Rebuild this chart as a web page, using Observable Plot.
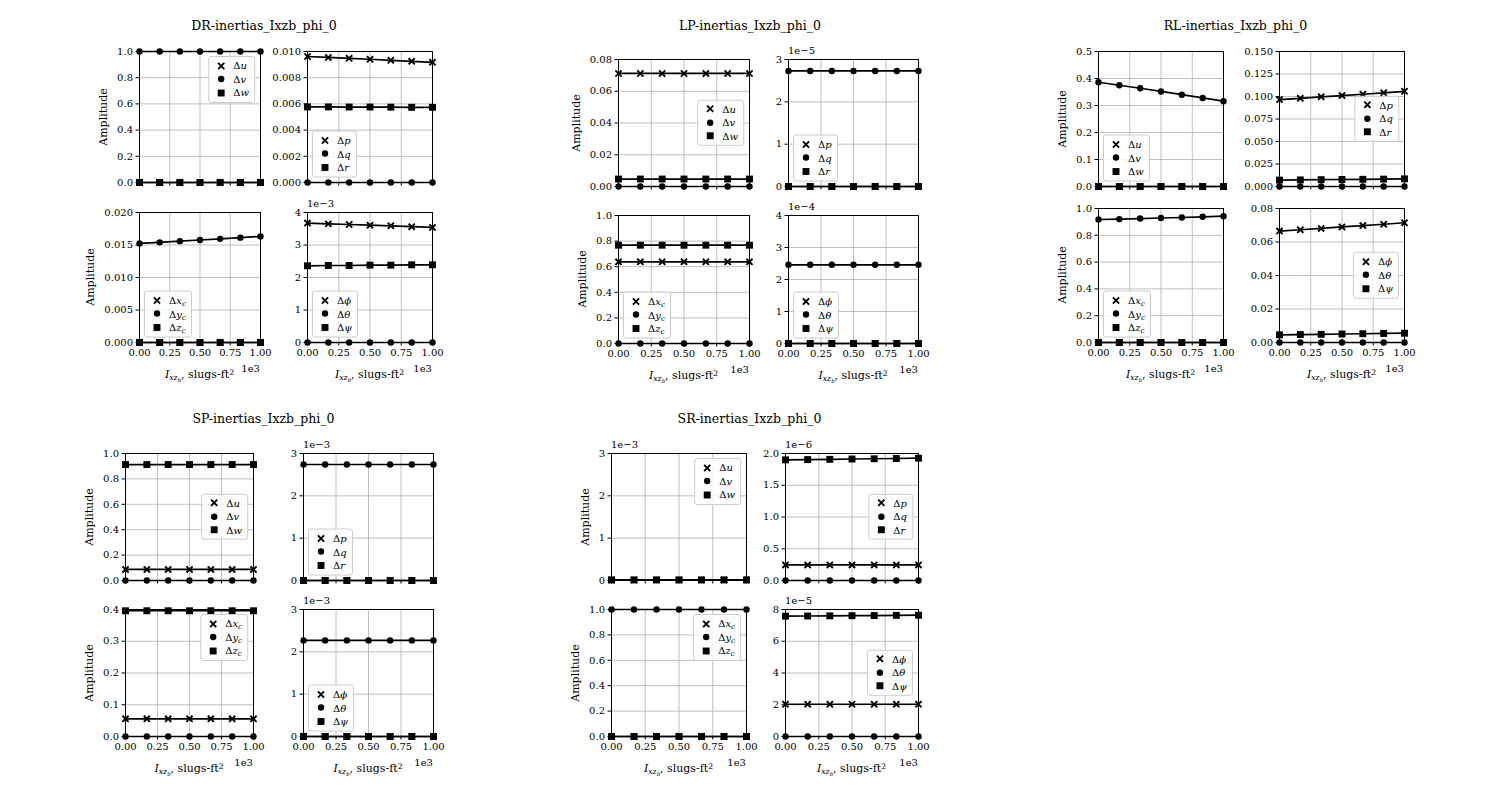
<!DOCTYPE html>
<html><head><meta charset="utf-8">
<script src="https://cdn.jsdelivr.net/npm/d3@7"></script>
<script src="https://cdn.jsdelivr.net/npm/@observablehq/plot@0.6"></script>
<style>
body{margin:0;background:#fff;font-family:"DejaVu Serif","Liberation Serif",serif;color:#000;}
#fig{position:relative;width:1500px;height:800px;overflow:hidden;background:#fff;}
.lg{position:absolute;background:rgba(255,255,255,0.8);border:1px solid #cccccc;border-radius:3px;padding:2px 5px 2px 6px;font-size:10px;}
.lg .row{display:flex;align-items:center;height:13.5px;white-space:nowrap;}
sub{font-size:0.7em;vertical-align:-0.3em;line-height:0;}
sup{font-size:0.7em;vertical-align:0.45em;line-height:0;}
</style></head><body><div id="fig"></div>
<script>
// ---------- data ----------
const xVals = [0, 166.67, 333.33, 500, 666.67, 833.33, 1000];
const xTicks = [0, 250, 500, 750, 1000];
const zeros = [0, 0, 0, 0, 0, 0, 0];

// DR
const DR_vel  = [zeros, [1, 1, 1, 1, 1, 1, 1], zeros];
const DR_rate = [[0.00962, 0.00955, 0.00948, 0.00941, 0.00933, 0.00925, 0.00917], zeros,
                 [0.00577, 0.00577, 0.00576, 0.00576, 0.00575, 0.00574, 0.00574]];
const DR_pos  = [zeros, [0.01524, 0.01541, 0.01559, 0.01577, 0.01595, 0.01613, 0.01632], zeros];
const DR_ang  = [[0.003675, 0.00365, 0.00363, 0.00361, 0.00359, 0.003565, 0.00354], zeros,
                 [0.00236, 0.00237, 0.00237, 0.00238, 0.00238, 0.00239, 0.00239]];
// LP
const LP_vel  = [[0.0712, 0.0712, 0.0712, 0.0712, 0.0712, 0.0712, 0.0712], zeros,
                 [0.0047, 0.0047, 0.0047, 0.0047, 0.0047, 0.0047, 0.0047]];
const LP_rate = [zeros, [2.73e-5, 2.73e-5, 2.73e-5, 2.73e-5, 2.73e-5, 2.73e-5, 2.73e-5], zeros];
const LP_pos  = [[0.638, 0.638, 0.638, 0.638, 0.638, 0.638, 0.638], zeros,
                 [0.768, 0.768, 0.768, 0.768, 0.768, 0.768, 0.768]];
const LP_ang  = [zeros, [2.46e-4, 2.46e-4, 2.46e-4, 2.46e-4, 2.46e-4, 2.46e-4, 2.46e-4], zeros];
// RL
const RL_vel  = [zeros, [0.386, 0.375, 0.364, 0.352, 0.340, 0.328, 0.316], zeros];
const RL_rate = [[0.0966, 0.0980, 0.0996, 0.1010, 0.1025, 0.1041, 0.1058], zeros,
                 [0.0071, 0.0073, 0.0076, 0.0078, 0.0080, 0.0082, 0.0085]];
const RL_pos  = [zeros, [0.918, 0.921, 0.925, 0.929, 0.933, 0.938, 0.943], zeros];
const RL_ang  = [[0.0665, 0.0673, 0.0681, 0.0690, 0.0698, 0.0706, 0.0715], zeros,
                 [0.00457, 0.00474, 0.00490, 0.00507, 0.00523, 0.00540, 0.00556]];
// SP
const SP_vel  = [[0.087, 0.087, 0.087, 0.087, 0.087, 0.087, 0.087], zeros,
                 [0.913, 0.913, 0.913, 0.913, 0.913, 0.913, 0.913]];
const SP_rate = [zeros, [2.74e-3, 2.74e-3, 2.74e-3, 2.74e-3, 2.74e-3, 2.74e-3, 2.74e-3], zeros];
const SP_pos  = [[0.0558, 0.0558, 0.0558, 0.0558, 0.0558, 0.0558, 0.0558], zeros,
                 [0.396, 0.396, 0.396, 0.396, 0.396, 0.396, 0.396]];
const SP_ang  = [zeros, [2.27e-3, 2.27e-3, 2.27e-3, 2.27e-3, 2.27e-3, 2.27e-3, 2.27e-3], zeros];
// SR
const SR_vel  = [[1e-5, 1e-5, 1e-5, 1e-5, 1e-5, 1e-5, 1e-5], [1e-5, 1e-5, 1e-5, 1e-5, 1e-5, 1e-5, 1e-5],
                 [1.5e-5, 1.5e-5, 1.5e-5, 1.5e-5, 1.5e-5, 1.5e-5, 1.5e-5]];
const SR_rate = [[2.45e-7, 2.45e-7, 2.45e-7, 2.45e-7, 2.45e-7, 2.45e-7, 2.45e-7], zeros,
                 [1.90e-6, 1.904e-6, 1.908e-6, 1.913e-6, 1.917e-6, 1.921e-6, 1.926e-6]];
const SR_pos  = [zeros, [1, 1, 1, 1, 1, 1, 1], zeros];
const SR_ang  = [[2.03e-5, 2.03e-5, 2.03e-5, 2.03e-5, 2.03e-5, 2.03e-5, 2.03e-5], zeros,
                 [7.58e-5, 7.59e-5, 7.60e-5, 7.61e-5, 7.62e-5, 7.63e-5, 7.64e-5]];

// y axes: [max, tick step, decimals, exponent]
const DR_axes = [[1.0, 0.2, 1, 0], [0.010, 0.002, 3, 0], [0.020, 0.005, 3, 0], [4e-3, 1e-3, 0, -3]];
const LP_axes = [[0.08, 0.02, 2, 0], [3e-5, 1e-5, 0, -5], [1.0, 0.2, 1, 0], [4e-4, 1e-4, 0, -4]];
const RL_axes = [[0.5, 0.1, 1, 0], [0.150, 0.025, 3, 0], [1.0, 0.2, 1, 0], [0.08, 0.02, 2, 0]];
const SP_axes = [[1.0, 0.2, 1, 0], [3e-3, 1e-3, 0, -3], [0.4, 0.1, 1, 0], [3e-3, 1e-3, 0, -3]];
const SR_axes = [[3e-3, 1e-3, 0, -3], [2e-6, 0.5e-6, 1, -6], [1.0, 0.2, 1, 0], [8e-5, 2e-5, 0, -5]];

// legend labels
const velLabels  = ["Δ<i>u</i>", "Δ<i>v</i>", "Δ<i>w</i>"];
const rateLabels = ["Δ<i>p</i>", "Δ<i>q</i>", "Δ<i>r</i>"];
const posLabels  = ["Δ<i>x</i><sub><i>c</i></sub>", "Δ<i>y</i><sub><i>c</i></sub>", "Δ<i>z</i><sub><i>c</i></sub>"];
const angLabels  = ["Δ<i>ϕ</i>", "Δ<i>θ</i>", "Δ<i>ψ</i>"];
const xLabel = "<i>I</i><sub><i>xz</i><sub><i>b</i></sub></sub>, slugs-ft<sup>2</sup>";
const yLabel = "Amplitude";

// ---------- layout ----------
const groups = [
  {name: "DR", title: [264, 25.5], cols: [[139, 260], [307, 432]], rows: [[51, 182], [212, 342]],
   data: [DR_vel, DR_rate, DR_pos, DR_ang], axes: DR_axes, loc: ["ur", "ll", "ll", "ll"]},
  {name: "LP", title: [750, 25.5], cols: [[618, 749], [788, 918]], rows: [[59, 186], [215, 343]],
   data: [LP_vel, LP_rate, LP_pos, LP_ang], axes: LP_axes, loc: ["cr", "ll", "ll", "ll"]},
  {name: "RL", title: [1235.5, 25.5], cols: [[1098, 1223], [1279, 1404]], rows: [[51, 186], [208, 342]],
   data: [RL_vel, RL_rate, RL_pos, RL_ang], axes: RL_axes, loc: ["ll", "cr", "ll", "cr"]},
  {name: "SP", title: [263.5, 419], cols: [[125, 253], [303, 433]], rows: [[453, 580], [609, 736]],
   data: [SP_vel, SP_rate, SP_pos, SP_ang], axes: SP_axes, loc: ["cr", "ll", "ur", "ll"]},
  {name: "SR", title: [749.5, 419], cols: [[611, 746], [785, 918]], rows: [[453, 580], [609, 736]],
   data: [SR_vel, SR_rate, SR_pos, SR_ang], axes: SR_axes, loc: ["ur", "cr", "ur", "cr"]}
];
const labelSets = [velLabels, rateLabels, posLabels, angLabels];
const symbols = ["times", "circle", "square"];
const d3Syms = [d3.symbolTimes, d3.symbolCircle, d3.symbolSquare];
const symR = [2.9, 3.2, 3.9];
const FONT = '"DejaVu Serif", "Liberation Serif", serif';

const fig = document.getElementById("fig");
function addDiv(html, css, cls) {
  const d = document.createElement("div");
  if (cls) d.className = cls;
  d.innerHTML = html;
  d.style.cssText = "position:absolute;white-space:nowrap;line-height:1;" + css;
  fig.appendChild(d);
  return d;
}
function symAttrs(s) {
  return s === 0 ? {stroke: "black", strokeWidth: 1.9, fill: "none"} : {fill: "black", stroke: "none"};
}

groups.forEach(g => {
  addDiv(g.name + "-inertias_Ixzb_phi_0",
    `left:${g.title[0]}px;top:${g.title[1]}px;transform:translate(-50%,-50%);font-size:12.5px;`);
  for (let k = 0; k < 4; k++) {
    const col = k % 2, row = Math.floor(k / 2);
    const [x0, x1] = g.cols[col], [y0, y1] = g.rows[row];
    const W = x1 - x0, H = y1 - y0;
    const [ymax, step, dec, ex] = g.axes[k];
    const sc = Math.pow(10, ex);
    const yTicks = d3.range(0, ymax + step / 2, step);
    const mL = 60, mR = 15, mT = 20, mB = 40;
    const marks = [
      Plot.gridX(xTicks, {stroke: "#b0b0b0", strokeOpacity: 1, strokeWidth: 0.8}),
      Plot.gridY(yTicks, {stroke: "#b0b0b0", strokeOpacity: 1, strokeWidth: 0.8}),
      Plot.axisX(xTicks, {tickSize: 3.5, tickPadding: 3, label: null,
        tickFormat: row === 1 ? (d => (d / 1000).toFixed(2)) : (() => "")}),
      Plot.axisY(yTicks, {tickSize: 3.5, tickPadding: 3, label: null,
        tickFormat: d => (d / sc).toFixed(dec)})
    ];
    g.data[k].forEach((vals, s) => {
      const pts = vals.map((v, i) => ({x: xVals[i], y: v}));
      marks.push(Plot.line(pts, {x: "x", y: "y", stroke: "black", strokeWidth: 1.7}));
      marks.push(Plot.dot(pts, {x: "x", y: "y", symbol: symbols[s], r: symR[s], ...symAttrs(s)}));
    });
    marks.push(Plot.frame({stroke: "black", strokeWidth: 1}));
    const svg = Plot.plot({
      width: W + mL + mR, height: H + mT + mB,
      marginLeft: mL, marginRight: mR, marginTop: mT, marginBottom: mB,
      x: {domain: [0, 1000]}, y: {domain: [0, ymax]},
      style: {fontFamily: FONT, fontSize: "10px", color: "black", background: "transparent", overflow: "visible"},
      marks
    });
    svg.style.position = "absolute";
    svg.style.left = (x0 - mL) + "px";
    svg.style.top = (y0 - mT) + "px";
    svg.style.maxWidth = "none";
    svg.setAttribute("font-family", FONT);
    fig.appendChild(svg);

    // offset texts
    if (ex !== 0) addDiv("1e−" + (-ex), `left:${x0}px;top:${y0 - 13}px;font-size:10px;`);
    if (row === 1) {
      addDiv("1e3", `left:${x1}px;top:${y1 + 22}px;transform:translateX(-100%);font-size:10px;`);
      addDiv(xLabel, `left:${(x0 + x1) / 2}px;top:${y1 + 27}px;transform:translateX(-50%);font-size:11px;`);
    }
    if (col === 0) {
      const figLeft = fig.getBoundingClientRect().left;
      let minLeft = x0;
      svg.querySelectorAll('g[aria-label="y-axis tick label"] text').forEach(t => {
        minLeft = Math.min(minLeft, t.getBoundingClientRect().left - figLeft);
      });
      addDiv(yLabel, `left:${minLeft - 14}px;top:${(y0 + y1) / 2}px;transform:translate(-50%,-50%) rotate(-90deg);font-size:11px;`);
    }
    // legend
    const rowsHtml = labelSets[k].map((lab, s) => {
      const size = symR[s] * symR[s] * Math.PI;
      const path = d3.symbol(d3Syms[s], size)();
      const a = s === 0 ? 'fill="none" stroke="black" stroke-width="1.9"' : 'fill="black"';
      return `<div class="row"><svg width="12" height="12" style="margin-right:6px;overflow:visible"><path d="${path}" transform="translate(6,6)" ${a}/></svg><span>${lab}</span></div>`;
    }).join("");
    const loc = g.loc[k];
    let css;
    if (loc === "ur") css = `left:${x1 - 5}px;top:${y0 + 5}px;transform:translateX(-100%);`;
    else if (loc === "ll") css = `left:${x0 + 5}px;top:${y1 - 5}px;transform:translateY(-100%);`;
    else css = `left:${x1 - 5}px;top:${(y0 + y1) / 2}px;transform:translate(-100%,-50%);`;
    const lg = addDiv(rowsHtml, css, "lg");
    lg.style.lineHeight = "13.5px";
  }
});
</script></body></html>
